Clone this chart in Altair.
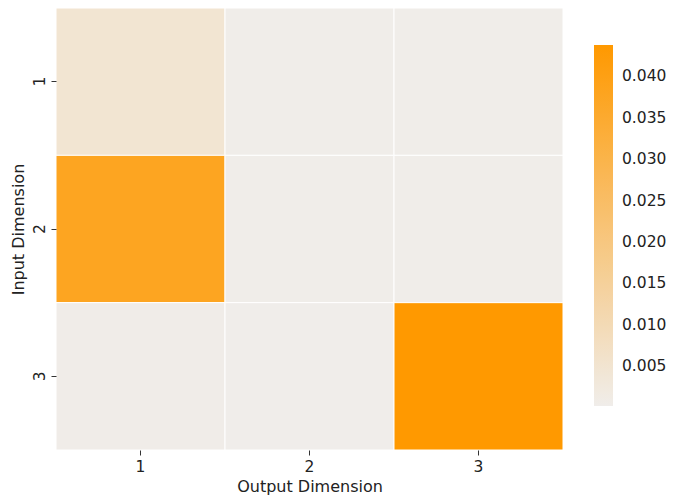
import altair as alt
import pandas as pd

inputs = ["1", "1", "1", "2", "2", "2", "3", "3", "3"]
outputs = ["1", "2", "3", "1", "2", "3", "1", "2", "3"]
values = [0.0046, 0.0004, 0.0003, 0.0376, 0.0003, 0.0004, 0.0005, 0.0002, 0.0438]
legend_ticks = [0.005, 0.010, 0.015, 0.020, 0.025, 0.030, 0.035, 0.040]
order = ["1", "2", "3"]

df = pd.DataFrame({"inp": inputs, "out": outputs, "val": values})

font = "DejaVu Sans"

chart = alt.Chart(df).mark_rect(stroke="white", strokeWidth=1).encode(
    x=alt.X("out:O", sort=order, title="Output Dimension",
            scale=alt.Scale(paddingInner=0, paddingOuter=0),
            axis=alt.Axis(labelAngle=0, domain=False, tickSize=5, tickColor="#333",
                          labelFontSize=15.5, titleFontSize=16, labelPadding=4,
                          titlePadding=4, labelColor="#222", titleColor="#222",
                          labelFont=font, titleFont=font, titleFontWeight="normal")),
    y=alt.Y("inp:O", sort=order, title="Input Dimension",
            scale=alt.Scale(paddingInner=0, paddingOuter=0),
            axis=alt.Axis(labelAngle=270, domain=False, tickSize=5, tickColor="#333",
                          labelFontSize=15.5, titleFontSize=16, labelPadding=12,
                          titlePadding=6, labelColor="#222", titleColor="#222",
                          labelBaseline="middle", labelAlign="center",
                          labelFont=font, titleFont=font, titleFontWeight="normal")),
    color=alt.Color("val:Q",
                    scale=alt.Scale(domain=[0.0002, 0.0438], range=["#F0EDEA", "#FF9900"],
                                    interpolate="rgb"),
                    legend=alt.Legend(title=None, orient="none", legendX=538, legendY=37,
                                      direction="vertical", gradientLength=361,
                                      gradientThickness=19, values=legend_ticks,
                                      format=".3f", labelFontSize=15.5, labelFont=font,
                                      labelColor="#222", labelOffset=9,
                                      gradientStrokeWidth=0)),
).properties(
    width=507, height=442,
    autosize=alt.AutoSizeParams(type="none"),
    padding={"left": 48, "top": 0, "right": 107, "bottom": 46},
).configure_view(stroke=None)

chart.save("out.html", embed_options={"renderer": "svg", "actions": False})
